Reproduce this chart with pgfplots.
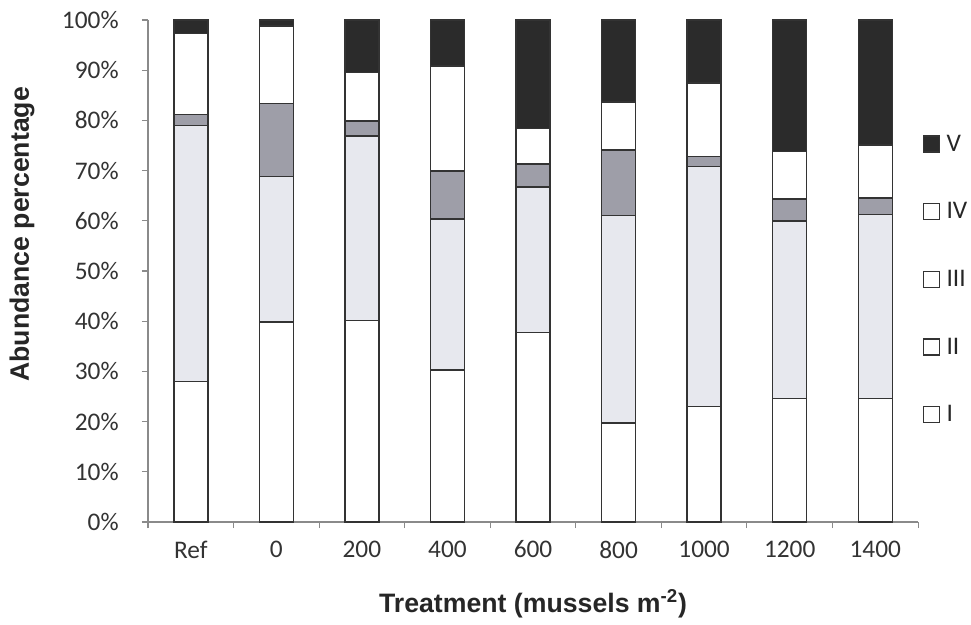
\documentclass[border=0pt]{standalone}
\usepackage{pgfplots}
\pgfplotsset{compat=1.18}
\usepackage{fontspec}
\setmainfont{Carlito}
\newfontfamily\labelfont{Liberation Sans}
\definecolor{cII}{HTML}{E7E8EE}
\definecolor{cIII}{HTML}{9E9EA8}
\definecolor{cV}{HTML}{2B2B2B}
\definecolor{edge}{HTML}{333333}
\definecolor{axisgray}{HTML}{8A8A8A}

\pgfplotstableread{
x I II III IV V
0 28.0 51.0 2.2 16.1 2.7
1 39.8 29.0 14.6 15.4 1.2
2 40.1 36.8 3.0 9.6 10.5
3 30.3 30.1 9.5 20.9 9.2
4 37.8 28.9 4.6 7.1 21.6
5 19.7 41.3 13.1 9.6 16.3
6 23.0 47.8 2.0 14.6 12.6
7 24.6 35.4 4.3 9.5 26.2
8 24.6 36.6 3.3 10.6 24.9
}\datatable

\begin{document}
\begin{tikzpicture}
\begin{axis}[
  scale only axis, width=577.5pt, height=376.5pt,
  ybar stacked, bar width=25.5pt,
  xmin=-0.5, xmax=8.5, ymin=0, ymax=100,
  axis x line*=bottom, axis y line*=left,
  axis line style={axisgray, line width=0.8pt},
  every tick/.style={axisgray, line width=0.8pt},
  tick align=outside,
  xtick={0,...,8},
  xticklabels={Ref,0,200,400,600,800,1000,1200,1400},
  major x tick style={draw=none},
  minor xtick={-0.5,0.5,...,8.5},
  minor tick length=4.5pt,
  major tick length=4.5pt,
  ytick={0,10,...,100},
  yticklabels={0\%,10\%,20\%,30\%,40\%,50\%,60\%,70\%,80\%,90\%,100\%},
  ticklabel style={font=\fontsize{19}{19}\selectfont, text=black!80},
  yticklabel style={xshift=-14pt},
  xticklabel style={yshift=-6pt},
  xlabel={\labelfont\bfseries Treatment (mussels m\textsuperscript{-2})},
  ylabel={\labelfont\bfseries Abundance percentage},
  label style={font=\fontsize{20}{20}\selectfont, text=black!85},
  xlabel style={at={(axis description cs:0.5,-0.163)}, anchor=center},
  ylabel style={at={(axis description cs:-0.1636,0.573)}, anchor=center, rotate=0},
  legend image code/.code={\draw[#1, draw=edge, line width=1pt] (0pt,-6pt) rectangle (12pt,6pt);},
  legend style={at={(axis description cs:1.002,0.782)}, anchor=north west, draw=none, fill=none,
    font=\fontsize{19}{19}\selectfont, row sep=33pt, inner sep=2pt, text=black!85},
  legend cell align=left,
  clip=false,
]
\addplot+[forget plot, fill=white, draw=edge, line width=1.1pt] table[x=x, y=I] {\datatable};
\addplot+[forget plot, fill=cII, draw=edge, line width=1.1pt] table[x=x, y=II] {\datatable};
\addplot+[forget plot, fill=cIII, draw=edge, line width=1.1pt] table[x=x, y=III] {\datatable};
\addplot+[forget plot, fill=white, draw=edge, line width=1.1pt] table[x=x, y=IV] {\datatable};
\addplot+[forget plot, fill=cV, draw=edge, line width=1.1pt] table[x=x, y=V] {\datatable};
\addlegendimage{fill=cV}\addlegendentry{\hspace{3pt}V}
\addlegendimage{fill=white}\addlegendentry{\hspace{3pt}IV}
\addlegendimage{fill=white}\addlegendentry{\hspace{3pt}III}
\addlegendimage{fill=white}\addlegendentry{\hspace{3pt}II}
\addlegendimage{fill=white}\addlegendentry{\hspace{3pt}I}
\coordinate (bbll) at (rel axis cs:-0.1922,-0.2032);
\coordinate (bbur) at (rel axis cs:1.0688,1.0398);
\end{axis}
\pgfresetboundingbox
\path[use as bounding box] (bbll) rectangle (bbur);
\end{tikzpicture}
\end{document}
